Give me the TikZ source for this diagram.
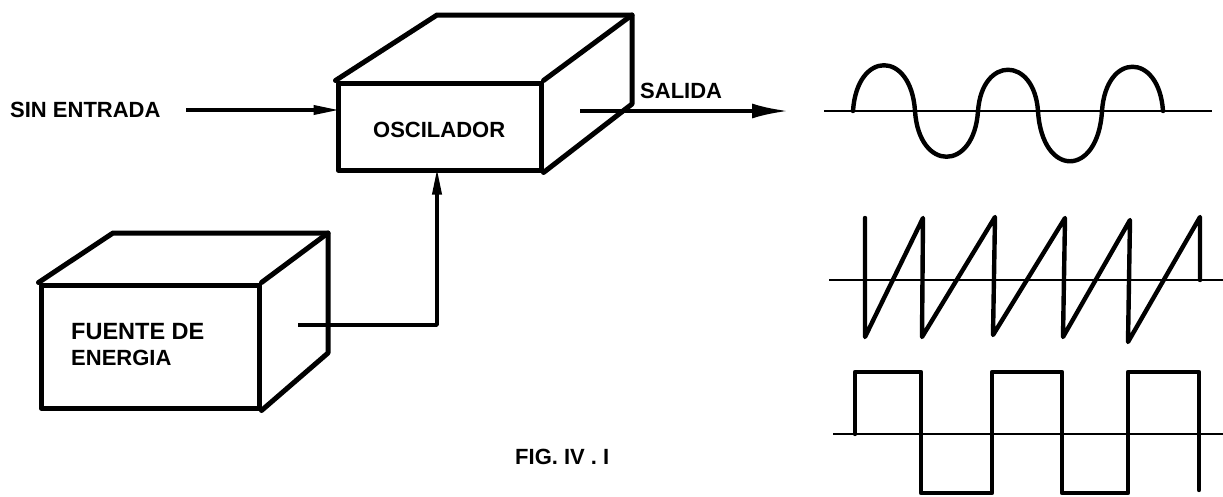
\documentclass[tikz,border=0pt]{standalone}
\usepackage{fontspec}
\setmainfont{Liberation Sans}
\usetikzlibrary{arrows.meta}
\tikzset{
  x=1pt,y=-1pt,
  face/.style={draw,line width=5pt,inner sep=0pt,minimum width=#1,line join=round},
  edge3d/.style={line width=5pt,line join=round,line cap=round},
  wire/.style={line width=3.6pt},
  wave/.style={line width=4.4pt,line join=round,line cap=round},
  axisline/.style={line width=2.8pt},
  lab/.style={font=\bfseries\fontsize{22}{24}\selectfont,inner sep=0pt,anchor=west,text=black},
  nib/.style={-{Triangle[length=26pt,width=9pt]},shorten >=-4pt},
  bigtip/.style={-{Latex[length=36pt,width=15pt]},shorten >=-3pt},
}
\begin{document}
\begin{tikzpicture}
\useasboundingbox (0,0) rectangle (1223,496);
% Oscillator box
\node[face=203pt,minimum height=87pt] (osc) at (439.5,126.5) {};
\coordinate (oscTL) at (437,15);
\coordinate (oscTR) at (632,15);
\coordinate (oscBR) at (632,104);
\draw[edge3d] (osc.north west) -- (oscTL) -- (oscTR) -- (oscBR) -- (osc.south east);
\draw[edge3d] (osc.north east) -- (oscTR);
% Energy box
\node[face=218pt,minimum height=123pt] (src) at (150,346.5) {};
\coordinate (srcTL) at (113,233);
\coordinate (srcTR) at (328,233);
\coordinate (srcBR) at (328,353);
\draw[edge3d] (src.north west) -- (srcTL) -- (srcTR) -- (srcBR) -- (src.south east);
\draw[edge3d] (src.north east) -- (srcTR);
% Labels
\node[lab] (lin) at (10,110) {SIN ENTRADA};
\node[lab] (lo) at (373,130) {OSCILADOR};
\node[lab] (lout) at (640,91) {SALIDA};
\node[lab,font=\bfseries\fontsize{23.5}{26}\selectfont] (lf1) at (71,332) {FUENTE DE};
\node[lab] (lf2) at (71,358) {ENERGIA};
\node[lab] (lfig) at (515,457) {FIG. IV . I};
% Connectors
\coordinate (inS) at (186,110);
\draw[wire,nib] (inS) -- (osc.west |- inS);
\coordinate (outS) at (580,111);
\coordinate (outE) at (785,111);
\draw[wire,bigtip] (outS) -- (outE);
\coordinate (srcOut) at (298,325);
\coordinate (turn) at (437,325);
\draw[wire,nib,line join=round] (srcOut) -- (turn) -- (osc.south -| turn);
% Sine
\coordinate (a1) at (824,111);\coordinate (a2) at (1212,111);
\draw[axisline] (a1) -- (a2);
\draw[wave] (853,111)
  .. controls (857,50) and (911,50) .. (915,111)
  .. controls (919,172) and (974,172) .. (978,111)
  .. controls (982,56) and (1034,56) .. (1038,111)
  .. controls (1042,178) and (1098,178) .. (1102,111)
  .. controls (1106,52) and (1159,52) .. (1163,111);
% Sawtooth
\coordinate (b1) at (829,280);\coordinate (b2) at (1223,280);
\draw[axisline] (b1) -- (b2);
\draw[wave] (865,218) -- (865,337) -- (923,218) -- (922,337) -- (995,217) -- (993,335)
  -- (1065,218) -- (1063,337) -- (1130,220) -- (1128,342) -- (1200,217) -- (1200,280);
% Square
\coordinate (c1) at (833,434);\coordinate (c2) at (1223,434);
\draw[axisline] (c1) -- (c2);
\draw[wave] (855,434) -- (855,372) -- (921,372) -- (921,493) -- (992,493) -- (992,372)
  -- (1062,372) -- (1062,493) -- (1128,493) -- (1128,372) -- (1199,372) -- (1199,490);
\end{tikzpicture}
\end{document}
